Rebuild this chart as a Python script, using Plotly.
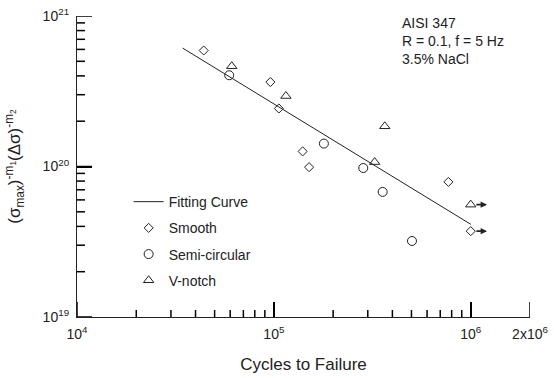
import numpy as np
import plotly.graph_objects as go

# Fatigue data: cycles to failure vs. combined stress parameter
smooth_n = [44000, 96000, 106000, 140000, 151000, 770000, 1000000]
smooth_s = [5.9e20, 3.64e20, 2.43e20, 1.26e20, 9.9e19, 7.9e19, 3.72e19]

semi_n = [59300, 179500, 284500, 357000, 503000]
semi_s = [4.04e20, 1.42e20, 9.77e19, 6.78e19, 3.2e19]

vnotch_n = [61100, 115100, 366000, 325000, 1000000]
vnotch_s = [4.64e20, 2.94e20, 1.85e20, 1.07e20, 5.58e19]

# Power-law fit (straight line on log-log axes)
fit_n = [34400, 1000000]
fit_s = [6.12e20, 4.13e19]

# Run-out specimens (no failure at 10^6 cycles)
runout_n = [1000000, 1000000]
runout_s = [3.72e19, 5.58e19]

x_tickvals = [1e4, 1e5, 1e6, 2e6]
x_ticktext = ["10<sup>4</sup>", "10<sup>5</sup>", "10<sup>6</sup>", "2x10<sup>6</sup>"]
y_tickvals = [1e19, 1e20, 1e21]
y_ticktext = ["10<sup>19</sup>", "10<sup>20</sup>", "10<sup>21</sup>"]
x_minor = [float(k) * 10.0 ** e for e in (4, 5) for k in range(2, 10)]
y_minor = [float(k) * 10.0 ** e for e in (19, 20) for k in range(2, 10)]

INK = "#222222"
FONT = "Liberation Sans, Arial, sans-serif"

W, H = 554, 378
M = dict(l=77, r=24, t=16, b=61)
x_range = [4, float(np.log10(2e6))]
y_range = [19, 21]

# pixels per decade on each axis, used to give the tick marks a fixed pixel length
px_x = (W - M["l"] - M["r"]) / (x_range[1] - x_range[0])
px_y = (H - M["t"] - M["b"]) / (y_range[1] - y_range[0])

fig = go.Figure()

# Inward tick marks: long at the labelled values, short in between
x0 = 10.0 ** x_range[0]
y0 = 10.0 ** y_range[0]
for vals, length in ((x_tickvals, 15), (x_minor, 7)):
    for v in vals:
        fig.add_trace(go.Scatter(
            x=[v, v], y=[y0, y0 * 10 ** (length / px_y)], mode="lines",
            line=dict(color="#000000", width=1.5),
            showlegend=False, hoverinfo="skip",
        ))
for vals, length in ((y_tickvals, 15), (y_minor, 8)):
    for v in vals:
        fig.add_trace(go.Scatter(
            x=[x0, x0 * 10 ** (length / px_x)], y=[v, v], mode="lines",
            line=dict(color="#000000", width=1.5),
            showlegend=False, hoverinfo="skip",
        ))

fig.add_trace(go.Scatter(
    x=fit_n, y=fit_s, mode="lines", name="Fitting Curve",
    line=dict(color=INK, width=1), legendgroup="a",
))
fig.add_trace(go.Scatter(
    x=smooth_n, y=smooth_s, mode="markers", name="Smooth",
    marker=dict(symbol="diamond-open", size=7, color=INK, line=dict(width=1, color=INK)),
    legendgroup="b",
))
fig.add_trace(go.Scatter(
    x=semi_n, y=semi_s, mode="markers", name="Semi-circular",
    marker=dict(symbol="circle-open", size=9, color=INK, line=dict(width=1, color=INK)),
    legendgroup="c",
))
fig.add_trace(go.Scatter(
    x=vnotch_n, y=vnotch_s, mode="markers", name="V-notch",
    marker=dict(symbol="triangle-up-open", size=9, color=INK, line=dict(width=1, color=INK)),
    legendgroup="d",
))

annotations = []
# Run-out arrows pointing to the right of the marker
for n, s in zip(runout_n, runout_s):
    annotations.append(dict(
        x=float(np.log10(n * 1.21)), y=float(np.log10(s)), xref="x", yref="y",
        ax=float(np.log10(n * 1.05)), ay=float(np.log10(s)), axref="x", ayref="y",
        showarrow=True, arrowhead=2, arrowsize=0.8, arrowwidth=1.6,
        arrowcolor=INK, text="",
    ))

annotations.append(dict(
    x=0.713, y=1.01, xref="paper", yref="paper", xanchor="left", yanchor="top",
    align="left", showarrow=False,
    text="AISI 347<br>R = 0.1, f = 5 Hz<br>3.5% NaCl",
    font=dict(family=FONT, size=14, color=INK),
))

fig.update_layout(
    width=W, height=H,
    margin=M,
    paper_bgcolor="white", plot_bgcolor="white",
    font=dict(family=FONT, size=14, color=INK),
    showlegend=True,
    legend=dict(
        x=0.114, y=0.435, xanchor="left", yanchor="top",
        bgcolor="rgba(0,0,0,0)", font=dict(size=14, color=INK),
        tracegroupgap=5,
    ),
    annotations=annotations,
    xaxis=dict(
        type="log", range=x_range, automargin=False,
        tickmode="array", tickvals=x_tickvals, ticktext=x_ticktext,
        ticks="inside", ticklen=15, tickwidth=1.5, tickcolor="#000000",
        showline=True, linecolor=INK, linewidth=1.2,
        showgrid=False, zeroline=False,
        tickfont=dict(size=14), ticklabelstandoff=4,
        title=dict(text="Cycles to Failure", font=dict(size=17), standoff=17),
    ),
    yaxis=dict(
        type="log", range=y_range, automargin=False,
        tickmode="array", tickvals=y_tickvals, ticktext=y_ticktext,
        ticks="inside", ticklen=15, tickwidth=1.5, tickcolor="#000000",
        showline=True, linecolor=INK, linewidth=1.2,
        showgrid=False, zeroline=False,
        tickfont=dict(size=14), ticklabelstandoff=4,
        title=dict(
            text="(σ<sub>max</sub>)<sup>-m<sub>1</sub></sup>(Δσ)<sup>-m<sub>2</sub></sup>",
            font=dict(size=17), standoff=17,
        ),
    ),
)

fig.write_html("out.html")
